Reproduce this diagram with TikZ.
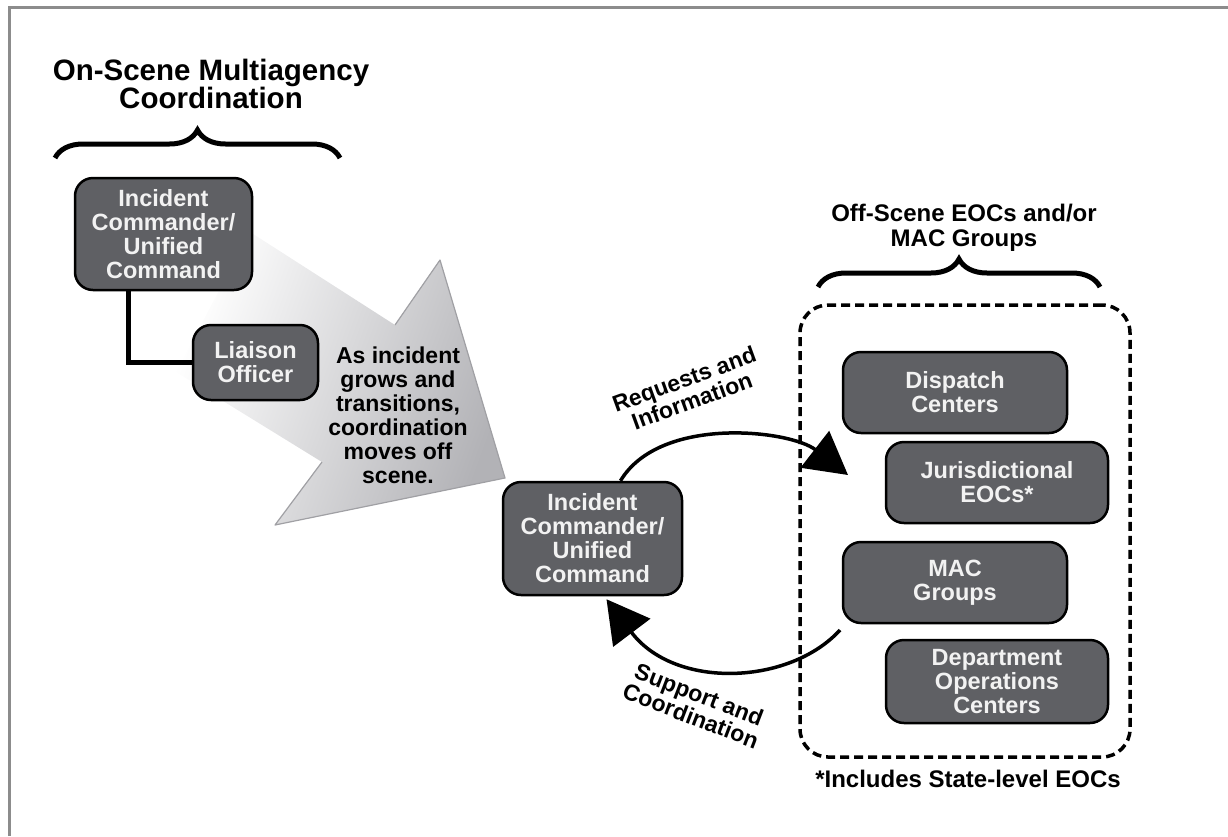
\documentclass[tikz,border=0pt]{standalone}
\usepackage{fontspec}
\setmainfont{Liberation Sans}
\usepackage{xcolor}
\usepackage{tikz}
\usetikzlibrary{arrows.meta, decorations.pathreplacing}
\definecolor{boxgray}{RGB}{95, 96, 100}
\definecolor{boxtext}{RGB}{242, 242, 242}
\definecolor{framegray}{RGB}{140, 140, 140}
\definecolor{arrowgray}{RGB}{178, 178, 182}
\definecolor{arrowedge}{RGB}{160, 160, 164}

\begin{document}
\begin{tikzpicture}[x=1pt, y=-1pt,
        cmdbox/.style={draw=black, line width=2.5pt, fill=boxgray, rounded corners=18pt,
            text=boxtext, align=center, inner sep=0pt,
            font=\fontsize{23.5}{24}\selectfont\bfseries},
        bigbrace/.style={decorate, decoration={brace, amplitude=28pt}, line width=5pt},
        flow/.style={line width=3.5pt, -{Triangle[length=42pt, width=46pt]}},
        lbl/.style={align=center, inner sep=0pt, font=\fontsize{23}{23}\selectfont\bfseries}]
        \useasboundingbox (0,0) rectangle (1228,836);

        % 外框
        \draw[framegray, line width=3pt] (9,836) -- (9,7) -- (1228,7);

        % 大箭头 (渐变)
        \shade[top color=arrowgray, bottom color=white, shading angle=-110]
            (250,232) -- (395,325) -- (440,260) -- (505,478) -- (275,525) -- (322,462) -- (176,372) -- cycle;
        \draw[arrowedge, line width=1.2pt, line join=round]
            (395,325) -- (440,260) -- (505,478) -- (275,525) -- (322,462);
        \node[lbl, font=\fontsize{23}{24}\selectfont\bfseries] (movetext) at (398,415)
            {As incident\\grows and\\transitions,\\coordination\\moves off\\scene.};

        % 现场协调
        \node[lbl, font=\fontsize{29.5}{26}\selectfont\bfseries] (ontitle) at (211,84)
            {On-Scene Multiagency\\Coordination};
        \draw[bigbrace] (55,158) -- (340,158);
        \node[cmdbox, minimum width=177pt, minimum height=112pt] (ic1) at (163.5,234)
            {Incident\\Commander/\\Unified\\Command};
        \node[cmdbox, minimum width=125pt, minimum height=75pt] (liaison) at (255.5,362.5)
            {Liaison\\Officer};
        \draw[line width=5pt] ([xshift=-35pt]ic1.south) |- (liaison.west);

        % 场外 EOC / MAC
        \node[lbl, font=\fontsize{24}{25}\selectfont\bfseries] (offtitle) at (964,228)
            {Off-Scene EOCs and/or\\MAC Groups};
        \draw[bigbrace] (818,287) -- (1100,287);
        \node[draw=black, line width=3.5pt, dash pattern=on 9pt off 5pt, rounded corners=28pt,
            minimum width=330pt, minimum height=452pt] (offbox) at (965,531) {};
        \node[cmdbox, minimum width=224pt, minimum height=81pt] (dispatch) at (955,392.5)
            {Dispatch\\Centers};
        \node[cmdbox, minimum width=222pt, minimum height=81pt] (juris) at (997,482.5)
            {Jurisdictional\\EOCs*};
        \node[cmdbox, minimum width=224pt, minimum height=81pt] (mac) at (955,582.5)
            {MAC\\Groups};
        \node[cmdbox, minimum width=222pt, minimum height=83pt] (dept) at (997,681.5)
            {Department\\Operations\\Centers};
        \node[lbl, font=\fontsize{24}{25}\selectfont\bfseries] (footnote) at (968,779)
            {*Includes State-level EOCs};

        % 现场指挥
        \node[cmdbox, minimum width=179pt, minimum height=113pt] (ic2) at (592.5,538.5)
            {Incident\\Commander/\\Unified\\Command};

        % 往返箭头
        \coordinate (reqtip) at (848,475);
        \coordinate (supstart) at (840,630);
        \draw[flow] ([xshift=28pt]ic2.north) .. controls (660,415) and (790,430) .. (reqtip);
        \draw[flow] (supstart) .. controls (790,685) and (675,690) .. ([xshift=14pt, yshift=-3pt]ic2.south);
        \node[lbl, rotate=20] (reqlbl) at (688,390) {Requests and\\Information};
        \node[lbl, rotate=-21] (suplbl) at (695,705) {Support and\\Coordination};
    \end{tikzpicture}
\end{document}
